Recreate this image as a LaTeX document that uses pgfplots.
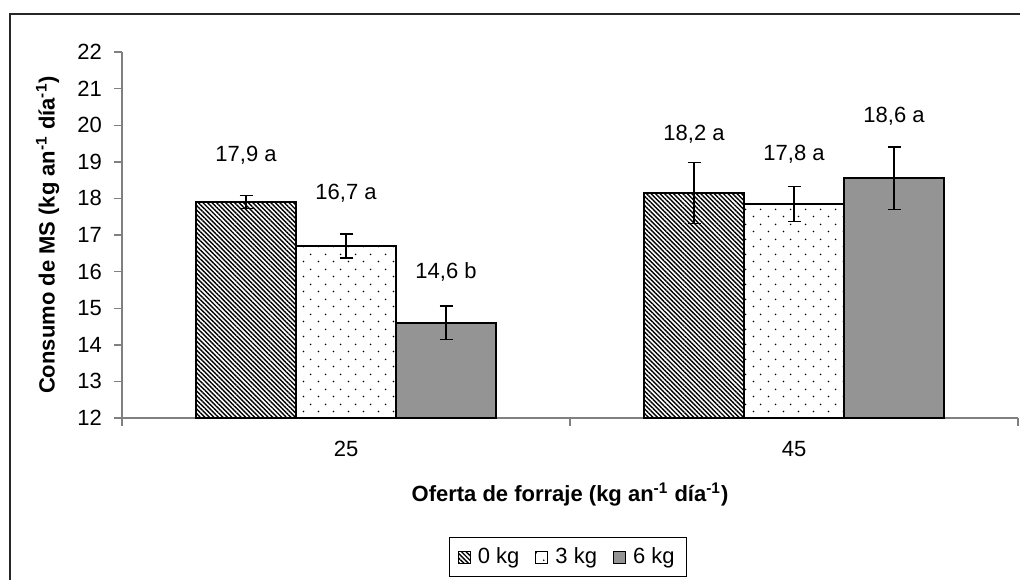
\documentclass[border=0pt]{standalone}
\usepackage{pgfplots}
\pgfplotsset{compat=1.18}
\usepackage{pgfplotstable}
\usepackage{fontspec}
\setmainfont{Liberation Sans}
\usetikzlibrary{patterns,patterns.meta}

% sparse staggered dots for the 3 kg bars
\pgfdeclarepattern{
  name=sparsedots,
  type=uncolored,
  bottom left={\pgfpoint{0pt}{0pt}},
  top right={\pgfpoint{7.5pt}{7.5pt}},
  tile size={\pgfpoint{7.5pt}{7.5pt}},
  code={
    \pgfpathcircle{\pgfpoint{1.875pt}{1.875pt}}{0.45pt}
    \pgfpathcircle{\pgfpoint{5.625pt}{5.625pt}}{0.45pt}
    \pgfusepath{fill}
  }
}

% x: 0 = 25, 1 = 45 ; y = consumo ; e = error
\pgfplotstableread{
x y e
0 17.9 0.18
1 18.15 0.83
}\dataA
\pgfplotstableread{
x y e
0 16.7 0.33
1 17.85 0.48
}\dataB
\pgfplotstableread{
x y e
0 14.6 0.46
1 18.55 0.85
}\dataC

\begin{document}
\begin{tikzpicture}[x=1pt,y=1pt]
\clip (0,0) rectangle (510,289.5);
\draw[line width=1pt, black!85] (5,-20) rectangle (530,282.5);
\begin{axis}[
  at={(61pt,80.5pt)}, anchor=south west,
  scale only axis, width=448pt, height=183pt,
  ybar=0pt, bar width=50pt,
  xmin=-0.5, xmax=1.5, ymin=12, ymax=22,
  axis x line*=bottom, axis y line*=left,
  axis line style={black!50, line width=0.7pt},
  tick style={black!50, line width=0.7pt},
  tick align=outside, major tick length=4pt,
  ytick={12,13,...,22},
  xtick={-0.5,0.5,1.5}, xticklabels={25,45},
  x tick label as interval=true,
  font=\fontsize{11}{13}\selectfont,
  /pgf/number format/assume math mode=true,
  yticklabel style={xshift=-2.5pt},
  xticklabel style={yshift=-4pt},
  ylabel={\bfseries Consumo de MS (kg an\textsuperscript{-1} día\textsuperscript{-1})},
  xlabel={\bfseries Oferta de forraje (kg an\textsuperscript{-1} día\textsuperscript{-1})},
  every axis y label/.style={at={(axis description cs:-0.083,0.5)}, rotate=90, anchor=center},
  every axis x label/.style={at={(axis description cs:0.5,-0.21)}, anchor=center},
  legend style={at={(0.498,-0.38)}, anchor=center, legend columns=-1,
    draw=black, line width=0.6pt, inner xsep=4pt, inner ysep=3pt,
    /tikz/every odd column/.append style={column sep=1.5pt},
    /tikz/every even column/.append style={column sep=6pt}},
  legend image code/.code={\draw[#1, line width=0.5pt] (0pt,-3pt) rectangle (6pt,3pt);},
  error bars/y dir=both, error bars/y explicit,
  error bars/error bar style={black, line width=0.7pt},
  error bars/error mark options={rotate=90, mark size=3.25pt, line width=0.7pt, black},
]
\addplot[draw=black, line width=0.9pt, fill=white,
  pattern={Lines[angle=-45, distance=1.6pt, line width=0.7pt]}]
  table[x=x, y=y, y error=e] {\dataA};
\addplot[draw=black, line width=0.9pt, fill=white,
  postaction={pattern=sparsedots}]
  table[x=x, y=y, y error=e] {\dataB};
\addplot[draw=black, line width=0.9pt, fill={rgb,255:red,148;green,148;blue,148}]
  table[x=x, y=y, y error=e] {\dataC};
\legend{0 kg, 3 kg, 6 kg}

\node[xshift=-50pt] at (axis cs:0,19.19) {17,9 a};
\node at (axis cs:0,18.15) {16,7 a};
\node[xshift=50pt] at (axis cs:0,15.99) {14,6 b};
\node[xshift=-50pt] at (axis cs:1,19.76) {18,2 a};
\node at (axis cs:1,19.21) {17,8 a};
\node[xshift=50pt] at (axis cs:1,20.25) {18,6 a};
\end{axis}
\end{tikzpicture}
\end{document}
